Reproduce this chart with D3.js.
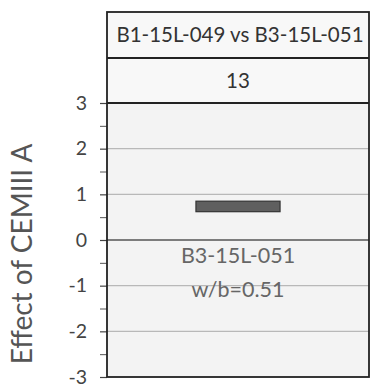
<!DOCTYPE html>
<html><head><meta charset="utf-8">
<script src="https://cdn.jsdelivr.net/npm/d3@7"></script>
<style>body{margin:0;background:#fff;} svg{display:block;}</style>
</head><body>
<svg id="c" width="371" height="388"></svg>
<script>
const panelTitle = "B1-15L-049 vs B3-15L-051";
const panelNumber = "13";
const categories = ["B3-15L-051"];
const subLabels = ["w/b=0.51"];
const barLow = [0.62];
const barHigh = [0.85];
const yTicks = [-3, -2, -1, 0, 1, 2, 3];
const yMinorTicks = [-2.5, -1.5, -0.5, 0.5, 1.5, 2.5];
const yLabel = "Effect of CEMIII A";

const svg = d3.select("#c");
const L = 107, R = 369, T = 103, B = 377, HT = 12, HM = 58;
const font = "Lato, 'Open Sans', sans-serif";

const y = d3.scaleLinear().domain([-3, 3]).range([B, T]);
const x = d3.scaleBand().domain(categories).range([L, R]).padding(0.514);

// plot background
svg.append("rect").attr("x", L).attr("y", T).attr("width", R - L).attr("height", B - T).attr("fill", "#f3f3f3");
svg.append("rect").attr("x", L).attr("y", HT).attr("width", R - L).attr("height", T - HT).attr("fill", "#f8f8f8");

// gridlines
svg.append("g").selectAll("line").data(yTicks.filter(d => d !== 0 && Math.abs(d) !== 3)).join("line")
  .attr("x1", L).attr("x2", R).attr("y1", d => y(d)).attr("y2", d => y(d))
  .attr("stroke", "#b8b8b8").attr("stroke-width", 1.2);
svg.append("line").attr("x1", L).attr("x2", R).attr("y1", y(0)).attr("y2", y(0))
  .attr("stroke", "#555").attr("stroke-width", 1.3);

// axis
const ax = svg.append("g").attr("transform", `translate(${L},0)`)
  .call(d3.axisLeft(y).tickValues(yTicks).tickSize(7).tickPadding(13).tickFormat(d => String(d)));
ax.select(".domain").remove();
ax.selectAll(".tick line").attr("stroke", "#444").attr("stroke-width", 1.2);
ax.selectAll(".tick text").attr("font-family", font).attr("font-size", 19.5).attr("fill", "#444");
svg.append("g").attr("transform", `translate(${L},0)`)
  .call(d3.axisLeft(y).tickValues(yMinorTicks).tickSize(7).tickFormat(""))
  .call(g => g.select(".domain").remove())
  .selectAll(".tick line").attr("stroke", "#555").attr("stroke-width", 1);

// bars
svg.append("g").selectAll("rect").data(categories).join("rect")
  .attr("x", d => x(d)).attr("width", x.bandwidth())
  .attr("y", (d, i) => y(barHigh[i])).attr("height", (d, i) => y(barLow[i]) - y(barHigh[i]))
  .attr("fill", "#5f5f5f").attr("stroke", "#333").attr("stroke-width", 1.2);

// category labels
svg.append("g").selectAll("text").data(categories).join("text")
  .attr("x", d => x(d) + x.bandwidth() / 2).attr("y", y(0) + 23)
  .attr("text-anchor", "middle").attr("font-family", font).attr("font-size", 21.5).attr("fill", "#666").text(d => d);
svg.append("g").selectAll("text").data(subLabels).join("text")
  .attr("x", (d, i) => x(categories[i]) + x.bandwidth() / 2).attr("y", y(-1) + 11)
  .attr("text-anchor", "middle").attr("font-family", font).attr("font-size", 21.5).attr("fill", "#666").text(d => d);

// header
svg.append("text").attr("x", (L + R) / 2 + 2).attr("y", 42).attr("text-anchor", "middle")
  .attr("font-family", font).attr("font-size", 20.5).attr("fill", "#333").text(panelTitle);
svg.append("text").attr("x", (L + R) / 2).attr("y", 88).attr("text-anchor", "middle")
  .attr("font-family", font).attr("font-size", 20.5).attr("fill", "#333").text(panelNumber);

// frame lines
const frame = svg.append("g").attr("stroke", "#222").attr("stroke-width", 1.8).attr("fill", "none");
frame.append("rect").attr("x", L).attr("y", HT).attr("width", R - L).attr("height", B - HT);
frame.append("line").attr("x1", L).attr("x2", R).attr("y1", HM).attr("y2", HM);
frame.append("line").attr("x1", L).attr("x2", R).attr("y1", T).attr("y2", T);

// y label
svg.append("text").attr("transform", `translate(32,254) rotate(-90)`)
  .attr("text-anchor", "middle").attr("font-family", font).attr("font-size", 28).attr("fill", "#555").text(yLabel);
</script>
</body></html>
